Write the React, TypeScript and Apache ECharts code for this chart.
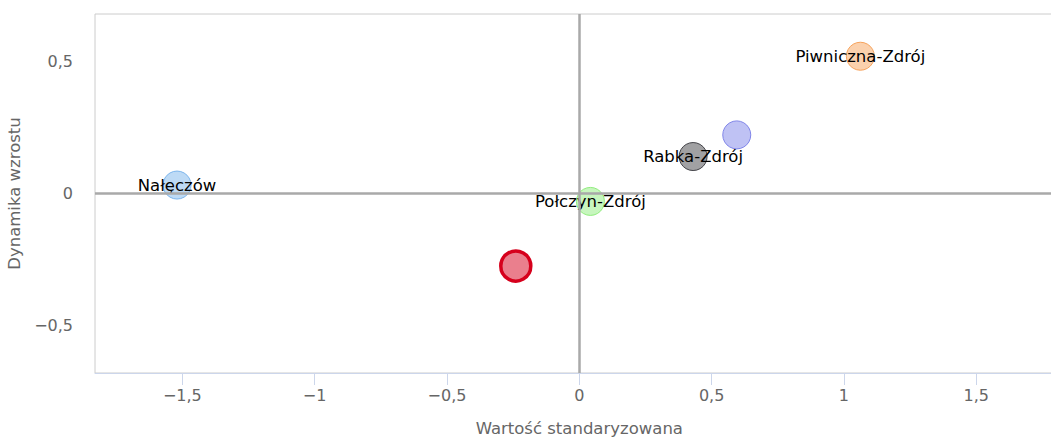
import React, { useEffect, useRef } from "react";
import * as echarts from "echarts";

// ---- data ----
const pointNames = ["Nałęczów", "Rabka-Zdrój", "Połczyn-Zdrój", "Piwniczna-Zdrój", "", ""];
const xValues = [-1.52, 0.43, 0.042, 1.062, 0.595, -0.24];
const yValues = [0.032, 0.14, -0.03, 0.52, 0.222, -0.275];
const xTicks = [-1.5, -1, -0.5, 0, 0.5, 1, 1.5];
const yTicks = [-0.5, 0, 0.5];
const xTitle = "Wartość standaryzowana";
const yTitle = "Dynamika wzrostu";

// ---- styles ----
const pointColors = ["#7cb5ec", "#434348", "#90ed7d", "#f7a35c", "#8085e9", "#d6001c"];
const FONT = "'DejaVu Sans', Verdana, sans-serif";

const fmt = (v: number) => String(v).replace(".", ",").replace("-", "\u2212");

function hexToRgba(hex: string, a: number) {
  const n = parseInt(hex.slice(1), 16);
  return `rgba(${(n >> 16) & 255},${(n >> 8) & 255},${n & 255},${a})`;
}

export default function App() {
  const ref = useRef<HTMLDivElement>(null);
  useEffect(() => {
    if (!ref.current) return;
    const chart = echarts.init(ref.current, undefined, { renderer: "svg" });
    const series: any[] = pointNames.map((name, i) => {
      const highlighted = i === pointNames.length - 1;
      return {
        type: "scatter",
        name: name || `p${i}`,
        z: 3,
        symbolSize: highlighted ? 30 : 28,
        data: [[xValues[i], yValues[i]]],
        itemStyle: {
          color: hexToRgba(pointColors[i], 0.5),
          borderColor: pointColors[i],
          borderWidth: highlighted ? 3.5 : 1,
          opacity: 1,
        },
        label: {
          show: !!name,
          position: "inside",
          offset: [0, -2],
          formatter: () => name,
          color: "#000000",
          fontSize: 16.5,
          fontFamily: FONT,
        },
        labelLayout: { hideOverlap: false },
      };
    });
    series.push({
      type: "scatter",
      name: "zero",
      data: [],
      silent: true,
      z: 1,
      markLine: {
        silent: true,
        symbol: "none",
        label: { show: false },
        lineStyle: { color: "#a9a9a9", width: 2.5, type: "solid" },
        data: [{ xAxis: 0 }, { yAxis: 0 }],
      },
    });
    chart.setOption({
      animation: false,
      grid: {
        left: 95,
        top: 14,
        width: 968.6,
        height: 359,
        show: true,
        borderColor: "#cccccc",
        borderWidth: 1,
        backgroundColor: "transparent",
        containLabel: false,
        outerBoundsMode: "none",
      },
      xAxis: {
        type: "value",
        min: -1.83,
        max: 1.83,
        name: xTitle,
        nameLocation: "middle",
        nameGap: 47,
        nameTextStyle: { color: "#666666", fontSize: 16.5, fontFamily: FONT },
        splitLine: { show: false },
        axisLine: { show: true, onZero: false, lineStyle: { color: "#ccd6eb", width: 1 } },
        axisTick: { show: true, length: 12, customValues: xTicks, lineStyle: { color: "#ccd6eb" } },
        axisLabel: {
          customValues: xTicks,
          formatter: (v: number) => fmt(v),
          color: "#666666",
          fontSize: 16,
          fontFamily: FONT,
          margin: 14,
        },
      },
      yAxis: {
        type: "value",
        min: -0.68,
        max: 0.68,
        name: yTitle,
        nameLocation: "middle",
        nameGap: 56,
        nameTextStyle: { color: "#666666", fontSize: 16.5, fontFamily: FONT },
        splitLine: { show: false },
        axisLine: { show: false },
        axisTick: { show: false },
        axisLabel: {
          customValues: yTicks,
          formatter: (v: number) => fmt(v),
          color: "#666666",
          fontSize: 16,
          fontFamily: FONT,
          margin: 22,
        },
      },
      series,
    });
    return () => chart.dispose();
  }, []);
  return (
    <div
      ref={ref}
      style={{ position: "fixed", left: 0, top: 0, width: 1051, height: 439, background: "#fff" }}
    />
  );
}
